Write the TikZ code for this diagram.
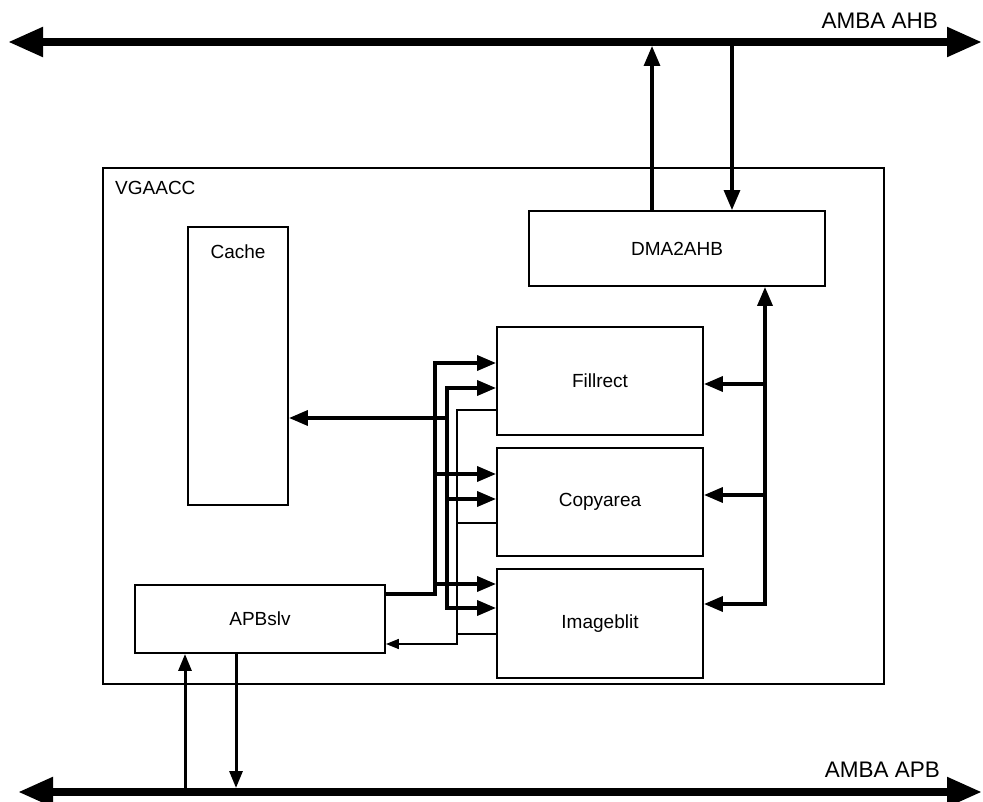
\documentclass[tikz,border=0pt]{standalone}
\usepackage{fontspec}
\setmainfont{Liberation Sans}
\usepackage{tikz}
\usetikzlibrary{arrows.meta}
\tikzset{
  every picture/.style={line join=miter, line cap=butt},
  box/.style={draw, line width=1.9pt, inner sep=0pt, font=\fontsize{19}{23}\selectfont},
  txt/.style={inner sep=0pt, font=\fontsize{19}{23}\selectfont},
  bustxt/.style={inner sep=0pt, font=\fontsize{22.5}{27}\selectfont},
  bus/.style={line width=8pt, {Triangle[length=35pt,width=28pt]}-{Triangle[length=35pt,width=28pt]}},
  ahbconn/.style={line width=3.2pt, -{Triangle[length=20pt,width=16pt]}},
  apbconn/.style={line width=3pt, -{Triangle[length=17pt,width=13pt]}},
  conn/.style={line width=3.5pt, -{Triangle[length=19pt,width=15pt]}},
  thinconn/.style={line width=1.7pt},
}

\begin{document}
\begin{tikzpicture}[x=1pt,y=-1pt]
\useasboundingbox (0,0) rectangle (983,802);
\node[box, line width=1.6pt, minimum width=781pt, minimum height=516pt] (vga) at (493.5,426) {};
\node[txt, anchor=base west] (vgatxt) at (115,195) {VGAACC};
\node[box, minimum width=100pt, minimum height=278pt] (cache) at (238,366) {};
\node[txt] (cachetxt) at (238,252) {Cache};
\node[box, minimum width=296pt, minimum height=75pt] (dma) at (677,248.5) {DMA2AHB};
\node[box, minimum width=206pt, minimum height=108pt] (fill) at (600,381) {Fillrect};
\node[box, minimum width=206pt, minimum height=108pt] (copy) at (600,502) {Copyarea};
\node[box, minimum width=206pt, minimum height=109pt] (img) at (600,623.5) {Imageblit};
\node[box, minimum width=250pt, minimum height=68pt] (apbslv) at (260,619) {APBslv};

\coordinate (ahbW) at (8,42);
\coordinate (ahbE) at (982,42);
\coordinate (apbW) at (18,792);
\coordinate (apbE) at (982,792);
\node[bustxt, anchor=base east] (ahbtxt) at (938,29) {AMBA AHB};
\node[bustxt, anchor=base east] (apbtxt) at (940,777) {AMBA APB};

\draw[ahbconn, shorten >=4pt] (dma.north -| 652,0) -- (652,0 |- ahbW);
\draw[ahbconn] (732,0 |- ahbW) -- (dma.north -| 732,0);
\draw[apbconn] (185,0 |- apbW) -- (apbslv.south -| 185,0);
\draw[apbconn, shorten >=4pt] (apbslv.south -| 236,0) -- (236,0 |- apbW);

\coordinate (jd1) at (765,384);
\coordinate (jd2) at (765,495);
\coordinate (jd3) at (765,604);
\draw[conn, {Triangle[length=19pt,width=15pt]}-{Triangle[length=19pt,width=15pt]}] (img.east |- jd3) -- (jd3) -- (jd3 |- dma.south);
\draw[conn] (jd1) -- (fill.east |- jd1);
\draw[conn] (jd2) -- (copy.east |- jd2);

\coordinate (ja1) at (435,363);
\coordinate (ja2) at (435,474);
\coordinate (ja3) at (435,584);
\draw[conn] (apbslv.east |- 0,594) -| (ja1) -- (fill.west |- ja1);
\draw[conn] (ja2) -- (copy.west |- ja2);
\draw[conn] (ja3) -- (img.west |- ja3);

\coordinate (jb1) at (447,388);
\coordinate (jb2) at (447,499);
\coordinate (jb3) at (447,608);
\coordinate (jc) at (447,418);
\draw[conn, {Triangle[length=19pt,width=15pt]}-{Triangle[length=19pt,width=15pt]}] (fill.west |- jb1) -- (jb1) -- (jb3) -- (img.west |- jb3);
\draw[conn] (jb2) -- (copy.west |- jb2);
\draw[conn] (jc) -- (cache.east |- jc);

\coordinate (jt1) at (457,410);
\coordinate (jt2) at (457,523);
\coordinate (jt3) at (457,634);
\draw[thinconn, -{Triangle[length=13pt,width=10pt]}] (fill.west |- jt1) -- (jt1) |- (apbslv.east |- 0,644);
\draw[thinconn] (copy.west |- jt2) -- (jt2);
\draw[thinconn] (img.west |- jt3) -- (jt3);

\draw[bus] (ahbW) -- (ahbE);
\draw[bus] (apbW) -- (apbE);
\end{tikzpicture}
\end{document}
